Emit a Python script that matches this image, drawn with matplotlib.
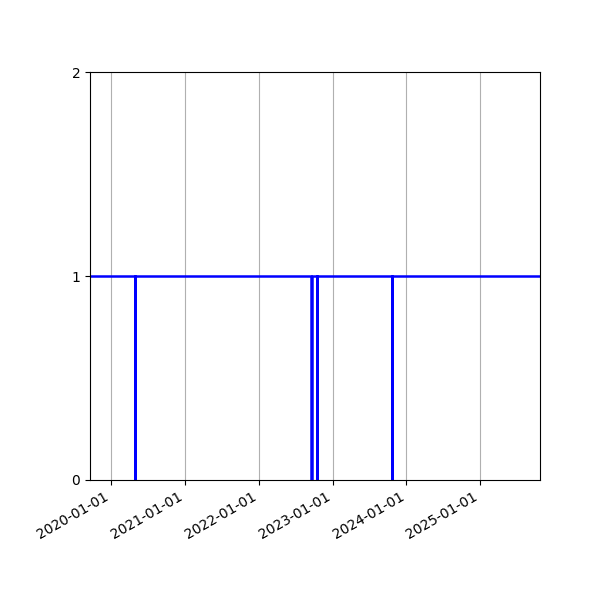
import numpy as np
import pandas as pd
import matplotlib
matplotlib.use("Agg")
import matplotlib.pyplot as plt
import matplotlib.dates as mdates

# Tarihler ve durum (1 = açık, 0 = kısa kesinti)
dates = ["2019-09-18", "2020-04-27", "2020-04-28", "2022-09-18", "2022-09-19",
         "2022-10-16", "2022-10-17", "2023-10-23", "2023-10-24", "2025-10-24"]
status = [1, 0, 1, 0, 1, 0, 1, 0, 1, 1]

x_start = "2019-09-18"
x_end = "2025-10-24"

df = pd.DataFrame({"date": pd.to_datetime(dates), "status": status})

fig, ax = plt.subplots(figsize=(6, 6), dpi=100)
fig.subplots_adjust(left=0.15, right=0.9, top=0.88, bottom=0.2)

ax.plot(df["date"], df["status"], drawstyle="steps-post", color="blue", lw=1.8)

ax.set_xlim(pd.Timestamp(x_start), pd.Timestamp(x_end))
ax.set_ylim(0, 2)
ax.set_yticks([0, 1, 2])
ax.xaxis.set_major_locator(mdates.YearLocator())
ax.xaxis.set_major_formatter(mdates.DateFormatter("%Y-%m-%d"))
ax.grid(True, axis="x")

for lbl in ax.get_xticklabels():
    lbl.set_rotation(30)
    lbl.set_ha("right")

fig.savefig("out.png")
